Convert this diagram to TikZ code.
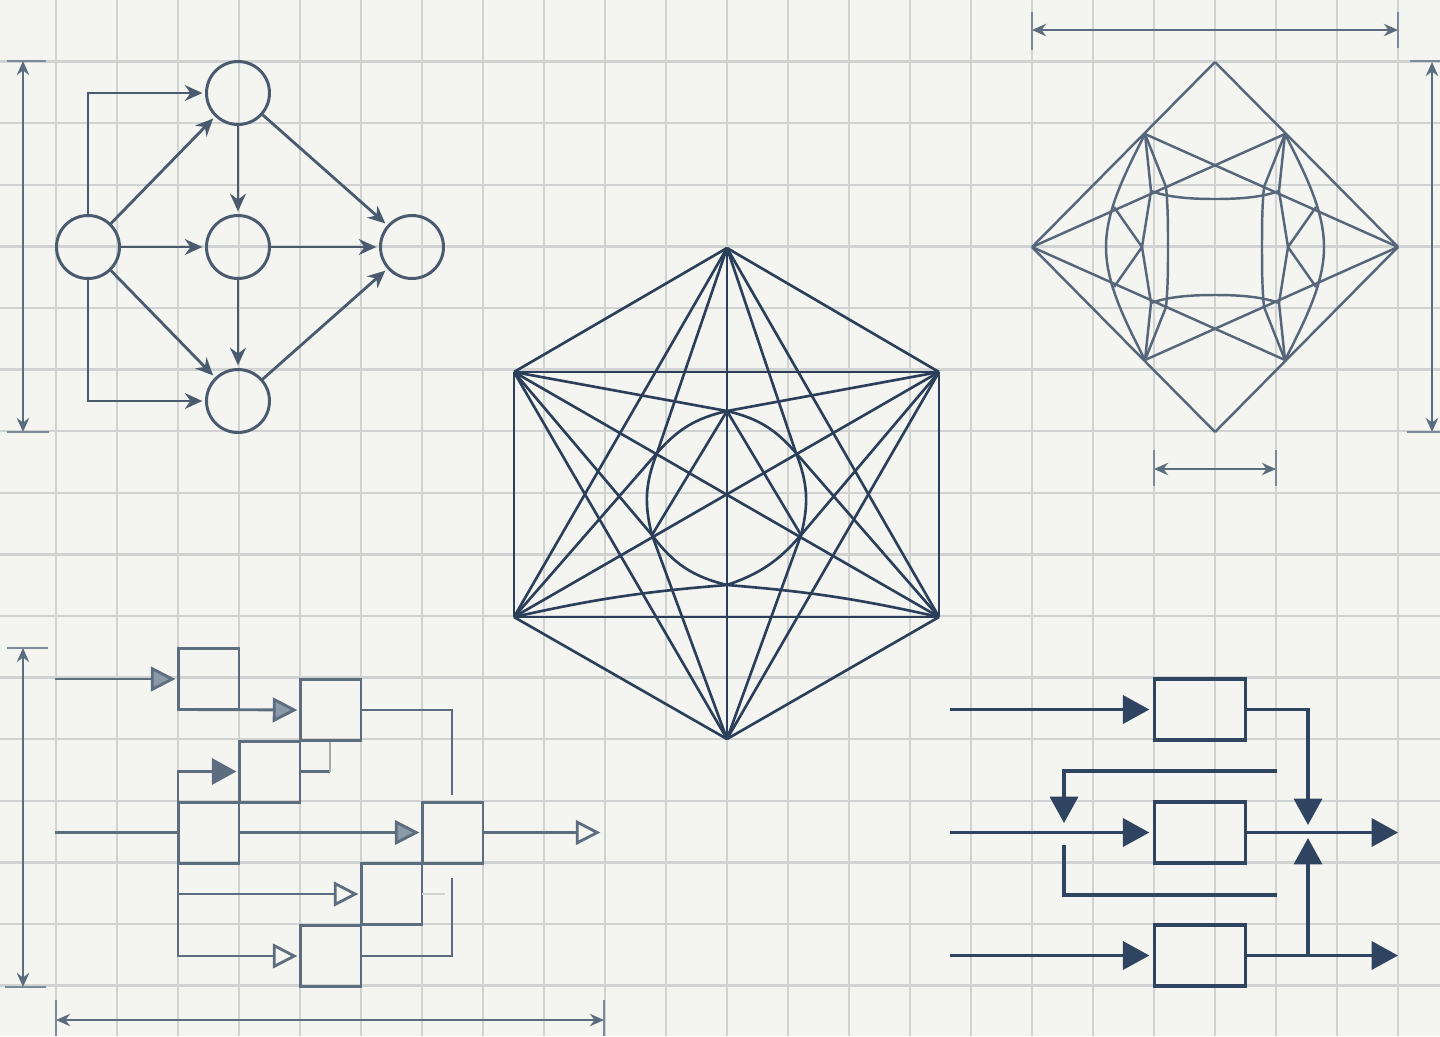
\documentclass[tikz,border=0pt]{standalone}
\usepackage{tikz}
\usetikzlibrary{arrows.meta, positioning, calc}
\definecolor{paperbg}{HTML}{F4F4F0}
\definecolor{gridgray}{HTML}{D0D3D2}
\definecolor{dimblue}{HTML}{5B6C7F}
\definecolor{netblue}{HTML}{4A5B70}
\definecolor{starblue}{HTML}{2B3F5B}
\definecolor{gemblue}{HTML}{56677B}
\definecolor{flowblue}{HTML}{2F4460}
\definecolor{stepblue}{HTML}{5C6D80}
\definecolor{tipgray}{HTML}{8C99A6}
\tikzset{
    gridline/.style={gridgray, line width=1.3pt},
    dimline/.style={dimblue, line width=1.5pt, {Stealth[length=8pt,width=7pt]}-{Stealth[length=8pt,width=7pt]}},
    dimtick/.style={dimblue!80, line width=1.3pt},
    netnode/.style={draw=netblue, circle, line width=1.7pt, minimum size=1.26cm, inner sep=0pt},
    netedge/.style={netblue, line width=1.6pt, -{Stealth[length=10pt,width=9pt]}, shorten >=1.5pt},
    starline/.style={starblue, line width=1.5pt},
    gemline/.style={gemblue, line width=1.4pt},
    flowbox/.style={draw=flowblue, line width=1.9pt, minimum width=1.82cm, minimum height=1.22cm, inner sep=0pt},
    flowline/.style={flowblue, line width=1.8pt},
    flowedge/.style={flowline, -{Triangle[length=15pt,width=16pt]}},
    stepbox/.style={draw=stepblue, line width=1.7pt, minimum size=1.22cm, inner sep=0pt, outer sep=0pt},
    stepline/.style={stepblue, line width=1.6pt},
    steptip/.style={stepline, shorten >=1.5pt, -{Triangle[length=14pt,width=14pt,fill=tipgray,color=stepblue]}},
    darktip/.style={stepline, shorten >=1.5pt, -{Triangle[length=14pt,width=15pt,fill=stepblue]}},
    opentip/.style={stepline, shorten >=1.5pt, -{Triangle[length=14pt,width=14pt,fill=paperbg,color=stepblue]}}
}
\begin{document}
\begin{tikzpicture}[x=0.02cm, y=-0.02cm]
        \useasboundingbox (0,0) rectangle (1440,1036);
        \fill[paperbg] (0,0) rectangle (1440,1036);
        \foreach \k in {0,...,22} \draw[gridline] ({56+61*\k},0) -- ({56+61*\k},1036);
        \foreach \k in {1,...,16} \draw[gridline] (0,{61.6*\k}) -- (1440,{61.6*\k});

        \foreach \n/\x/\y in {da/23/61, db/23/432, dc/7/61, dd/46/61, de/7/432, df/49/432,
                dg/1032/30, dh/1398/30, di/1032/12, dj/1032/50, dk/1398/12, dl/1398/48,
                dm/1432/62, dn/1432/432, do/1410/61, dp/1440/61, dq/1407/432, dr/1440/432,
                ds/1154/469, dt/1276/469, du/1154/450, dv/1154/486, dw/1276/450, dx/1276/486,
                ea/23/648, eb/23/987, ec/7/648, ed/48/648, ee/5/987, ef/46/987,
                eg/56/1020, eh/604/1020, ei/56/1000, ej/56/1036, ek/604/1000, el/604/1036}
            \coordinate (\n) at (\x,\y);
        \foreach \a/\b in {da/db, dg/dh, dm/dn, ds/dt, ea/eb, eg/eh} \draw[dimline] (\a) -- (\b);
        \foreach \a/\b in {dc/dd, de/df, di/dj, dk/dl, do/dp, dq/dr, du/dv, dw/dx, ec/ed, ee/ef, ei/ej, ek/el}
            \draw[dimtick] (\a) -- (\b);

        \node[netnode] (nl) at (88,247) {};
        \node[netnode] (nt) at (238,93) {};
        \node[netnode] (nm) at (238,247) {};
        \node[netnode] (nb) at (238,401) {};
        \node[netnode] (nr) at (412,247) {};
        \draw[netedge] (nl.north) |- (nt.west);
        \draw[netedge] (nl.south) |- (nb.west);
        \foreach \a/\b in {nl/nt, nl/nm, nl/nb, nt/nm, nm/nb, nm/nr, nt/nr, nb/nr}
            \draw[netedge] (\a) -- (\b);

        \foreach \n/\x/\y in {ct/727/248, ctl/514/372, ctr/939/372, cbl/514/617, cbr/939/617, cb/727/739,
                ca/727/411, cd/657/453, ce/796/453, cf/652/535, cg/801/535, ch/727/585}
            \coordinate (\n) at (\x,\y);
        \foreach \a/\b in {ct/ctl, ct/ctr, cb/cbl, cb/cbr, ctl/cbl, ctr/cbr, ctl/ctr, cbl/cbr, ct/cb,
                ct/cbl, ct/cbr, cb/ctl, cb/ctr, ctl/cbr, ctr/cbl,
                ct/cd, ct/ce, cb/cf, cb/cg, ctl/ca, ctr/ca, ctl/cf, ctr/cg, cbl/cd, cbr/ce,
                ca/cf, ca/cg}
            \draw[starline] (\a) -- (\b);
        \draw[starline] (cbl) to[bend left=4] (ch);
        \draw[starline] (cbr) to[bend right=4] (ch);
        \draw[starline] (ca) to[bend right=18] (cd) to[bend right=18] (cf) to[bend right=20] (ch)
            to[bend right=15] (cg) to[bend right=18] (ce) to[bend right=18] (ca);

        \foreach \sx in {1,-1}
            \foreach \sy in {1,-1} {
                \begin{scope}[shift={(1215,247)}, xscale=\sx, yscale=\sy]
                    \draw[gemline] (0,185) -- (183,0);
                    \draw[gemline] (-183,0) -- (70,113);
                    \draw[gemline] (70,113) .. controls (92,70) and (109,35) .. (109,0);
                    \draw[gemline] (70,113) -- (49,60) .. controls (47,40) and (47,20) .. (47,0);
                    \draw[gemline] (70,113) -- (64,56) -- (73,0) -- (101,40);
                    \draw[gemline] (64,56) .. controls (45,49) and (20,48) .. (0,48);
                \end{scope}
            }

        \node[stepbox] (s1) at (208.5,679) {};
        \node[stepbox] (s2) at (330.5,710) {};
        \node[stepbox] (s3) at (269.5,771.5) {};
        \node[stepbox] (s4) at (208.5,832.5) {};
        \node[stepbox] (s5) at (452.5,832.5) {};
        \node[stepbox] (s6) at (391.5,894) {};
        \node[stepbox] (s7) at (330.5,956) {};
        \coordinate (sin1) at (55,679);
        \coordinate (sin2) at (55,832.5);
        \coordinate (sout) at (603,832.5);
        \coordinate (sup) at (452,795);
        \coordinate (sdn) at (452,878);
        \coordinate (sa) at (330,771.5);
        \coordinate (sb) at (330,742);
        \coordinate (sc) at (422,894);
        \coordinate (sd) at (445,894);
        \draw[steptip] (sin1) -- (s1.west);
        \draw[steptip] (s1.south west) -- (s2.west);
        \draw[stepline] (s2.east) -| (sup);
        \draw[darktip] (s4.north west) |- (s3.west);
        \draw[stepline] (s3.east) -- (sa);
        \draw[stepline, gridgray!80!black] (sa) -- (sb);
        \draw[stepline, line width=2.1pt] (sin2) -- (s4.west);
        \draw[steptip] (s4.east) -- (s5.west);
        \draw[opentip] (s5.east) -- (sout);
        \draw[opentip] (s4.south west) |- (s6.west);
        \draw[opentip] (s4.south west) |- (s7.west);
        \draw[stepline] (s7.east) -| (sdn);
        \draw[stepline, line width=0.7pt, gridgray] (sc) -- (sd);

        \node[flowbox] (f1) at (1200,709.5) {};
        \node[flowbox] (f2) at (1200,832.5) {};
        \node[flowbox] (f3) at (1200,955.5) {};
        \coordinate (fin1) at (950,709.5);
        \coordinate (fin2) at (950,832.5);
        \coordinate (fin3) at (950,955.5);
        \coordinate (fout2) at (1398,832.5);
        \coordinate (fout3) at (1398,955.5);
        \coordinate (fdn) at (1308,825);
        \coordinate (fup) at (1308,838);
        \coordinate (fjn) at (1308,955.5);
        \coordinate (fla) at (1277,771);
        \coordinate (flb) at (1064,823);
        \coordinate (flc) at (1064,845);
        \coordinate (fld) at (1277,895);
        \draw[flowedge, shorten >=2pt] (fin1) -- (f1.west);
        \draw[flowedge, shorten >=2pt] (fin2) -- (f2.west);
        \draw[flowedge, shorten >=2pt] (fin3) -- (f3.west);
        \draw[flowedge] (f1.east) -| (fdn);
        \draw[flowedge] (f2.east) -- (fout2);
        \draw[flowedge] (f3.east) -- (fout3);
        \draw[flowedge] (fjn) -- (fup);
        \draw[flowedge] (fla) -| (flb);
        \draw[flowline] (flc) |- (fld);
\end{tikzpicture}
\end{document}
